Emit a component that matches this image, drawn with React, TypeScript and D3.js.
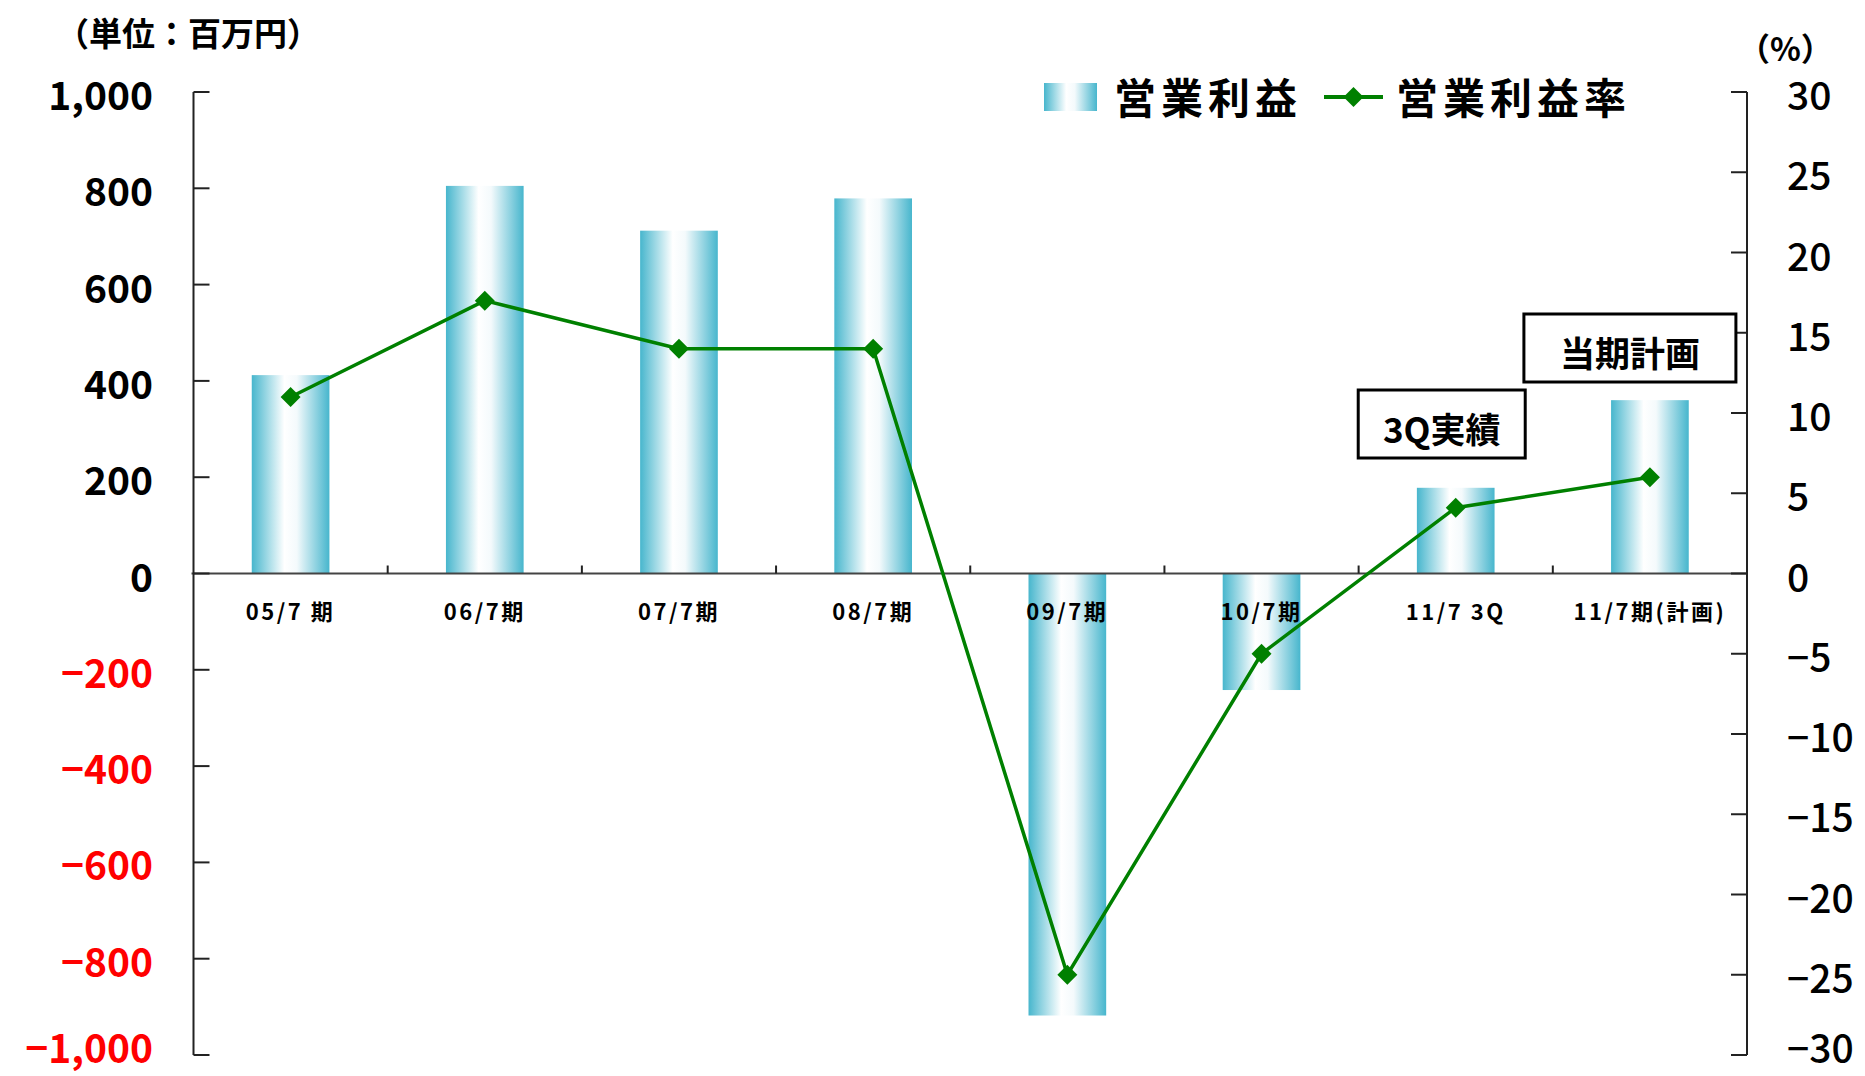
import React from 'react';
import * as d3 from 'd3';

const categories = ['05/7 期', '06/7期', '07/7期', '08/7期', '09/7期', '10/7期', '11/7 3Q', '11/7期(計画)'];
const operatingProfit = [412, 805, 712, 779, -918, -242, 178, 360];
const operatingMargin = [11.0, 17.0, 14.0, 14.0, -25.0, -5.0, 4.1, 6.0];
const leftTicks = [1000, 800, 600, 400, 200, 0, -200, -400, -600, -800, -1000];
const rightTicks = [30, 25, 20, 15, 10, 5, 0, -5, -10, -15, -20, -25, -30];
const seriesNames = ['営業利益', '営業利益率'];
const unitLeft = '（単位：百万円）';
const unitRight = '（%）';
const annotations = [
  { text: '3Q実績', cat: '11/7 3Q' },
  { text: '当期計画', cat: '11/7期(計画)' },
];

const W = 1865, H = 1076;
const L = 193.5, R = 1747, T = 92, B = 1055;
const FONT = '"Noto Sans CJK JP", "Noto Sans", sans-serif';
const GREEN = '#008000';
const TEAL = '#47b6cd';

export default function App() {
  const x = d3.scaleBand<string>().domain(categories).range([L, R]).paddingInner(0.6).paddingOuter(0.3);
  const yL = d3.scaleLinear().domain([-1000, 1000]).range([B, T]);
  const yR = d3.scaleLinear().domain([-30, 30]).range([B, T]);
  const fmt = d3.format(',');
  const minus = (s: string) => s.replace('-', '−');
  const cx = (c: string) => (x(c) as number) + x.bandwidth() / 2;
  const y0 = yL(0);
  const labelY = (py: number) => Math.min(py + 1, 1046);

  const line = d3.line<number>().x((_, i) => cx(categories[i])).y((d) => yR(d));
  const diamond = (px: number, py: number, r: number) =>
    `M${px},${py - r}L${px + r},${py}L${px},${py + r}L${px - r},${py}Z`;

  const boundaries = categories.slice(0, -1).map((c) => cx(c) + x.step() / 2);

  const annBoxes = [
    { w: 167, h: 68, dx: -14, top: 390 },
    { w: 212, h: 68, dx: -20, top: 314 },
  ];

  return (
    <svg width={W} height={H} style={{ position: 'absolute', left: 0, top: 0, background: '#fff' }} fontFamily={FONT}>
      <defs>
        <linearGradient id="barGrad" x1="0" x2="1" y1="0" y2="0">
          <stop offset="0" stopColor={TEAL} />
          <stop offset="0.42" stopColor="#ffffff" />
          <stop offset="0.58" stopColor="#f4fafc" />
          <stop offset="1" stopColor={TEAL} />
        </linearGradient>
      </defs>

      {operatingProfit.map((v, i) => {
        const c = categories[i];
        return (
          <rect key={c} x={x(c)} width={x.bandwidth()} y={Math.min(yL(v), y0)} height={Math.abs(yL(v) - y0)} fill="url(#barGrad)" />
        );
      })}

      <line x1={L - 2} x2={R} y1={y0} y2={y0} stroke="#444" strokeWidth={2} />
      {boundaries.map((bx, i) => (
        <line key={i} x1={bx} x2={bx} y1={y0} y2={y0 - 8} stroke="#222" strokeWidth={2} />
      ))}
      {categories.map((c) => (
        <text key={c} x={cx(c)} y={610} textAnchor="middle" dominantBaseline="central" fontSize={22} fontWeight={700} letterSpacing={2.5} fill="#000">
          {c}
        </text>
      ))}

      <line x1={L} x2={L} y1={T} y2={B} stroke="#222" strokeWidth={2} />
      {leftTicks.map((t) => (
        <g key={t}>
          <line x1={L} x2={L + 16} y1={yL(t)} y2={yL(t)} stroke="#222" strokeWidth={2} />
          <text x={153} y={labelY(yL(t))} textAnchor="end" dominantBaseline="central" fontSize={39} fontWeight={t < 0 ? 700 : 600} fill={t < 0 ? '#ff0000' : '#000'}>
            {minus(fmt(t))}
          </text>
        </g>
      ))}

      <line x1={R} x2={R} y1={T} y2={B} stroke="#222" strokeWidth={2} />
      {rightTicks.map((t) => (
        <g key={t}>
          <line x1={R} x2={R - 16} y1={yR(t)} y2={yR(t)} stroke="#222" strokeWidth={2} />
          <text x={1787} y={labelY(yR(t))} textAnchor="start" dominantBaseline="central" fontSize={39} fontWeight={500} fill="#000">
            {minus(String(t))}
          </text>
        </g>
      ))}

      <path d={line(operatingMargin) || ''} fill="none" stroke={GREEN} strokeWidth={3.5} />
      {operatingMargin.map((v, i) => (
        <path key={i} d={diamond(cx(categories[i]), yR(v), 10)} fill={GREEN} />
      ))}

      <text x={56} y={32} dominantBaseline="central" fontSize={33} fontWeight={700}>{unitLeft}</text>
      <text x={1738} y={47} dominantBaseline="central" fontSize={32} fontWeight={700}>{unitRight}</text>

      <rect x={1044} y={83} width={53} height={28} fill="url(#barGrad)" />
      <text x={1114} y={95} dominantBaseline="central" fontSize={42} fontWeight={700} letterSpacing={5}>{seriesNames[0]}</text>
      <line x1={1324} x2={1383} y1={97} y2={97} stroke={GREEN} strokeWidth={4} />
      <path d={diamond(1353.5, 97, 10)} fill={GREEN} />
      <text x={1396} y={95} dominantBaseline="central" fontSize={42} fontWeight={700} letterSpacing={5}>{seriesNames[1]}</text>

      {annotations.map((a, i) => {
        const b = annBoxes[i];
        const bx = cx(a.cat) + b.dx - b.w / 2;
        return (
          <g key={a.text}>
            <rect x={bx} y={b.top} width={b.w} height={b.h} fill="#fff" stroke="#000" strokeWidth={3} />
            <text x={bx + b.w / 2} y={b.top + b.h / 2 + 3} textAnchor="middle" dominantBaseline="central" fontSize={35} fontWeight={700}>
              {a.text}
            </text>
          </g>
        );
      })}
    </svg>
  );
}
